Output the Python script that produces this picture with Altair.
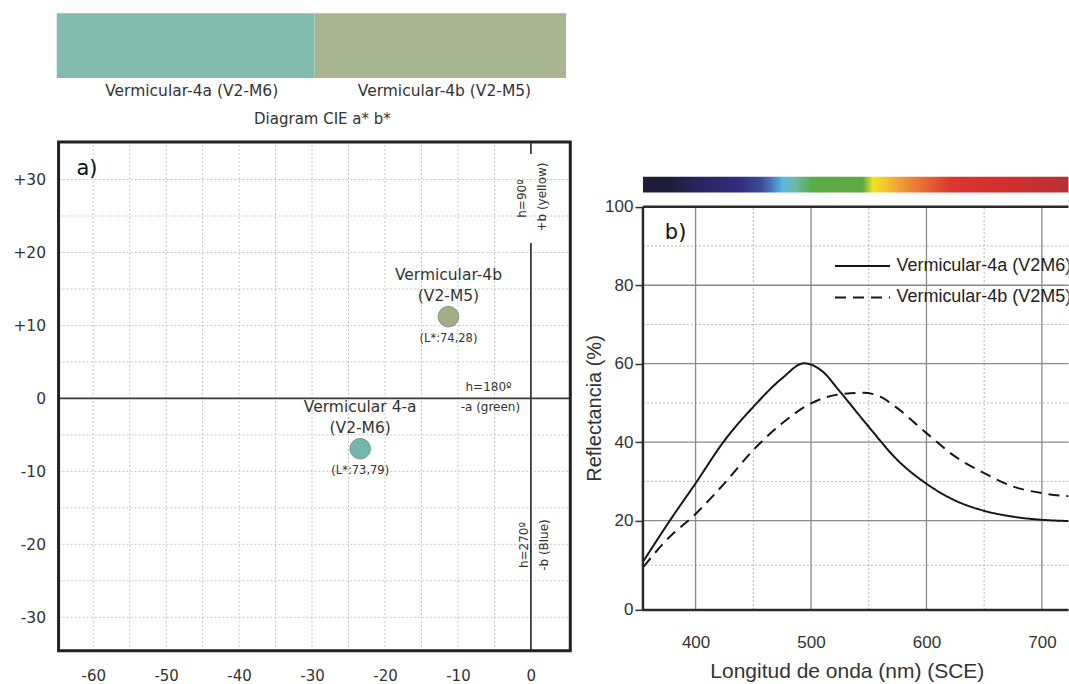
import altair as alt
import pandas as pd

# ---------------------------------------------------------------------------
# Panel a) - CIE a*b* diagram
# ---------------------------------------------------------------------------
sample_names = ["Vermicular 4-a", "Vermicular-4b"]
sample_codes = ["(V2-M6)", "(V2-M5)"]
sample_lightness = ["(L*:73,79)", "(L*:74,28)"]
sample_a = [-23.4, -11.3]
sample_b = [-6.9, 11.2]
sample_colors = ["#74b6a9", "#a3ad86"]

swatch_labels = ["Vermicular-4a (V2-M6)", "Vermicular-4b (V2-M5)"]
swatch_colors = ["#83bcaf", "#a9b592"]

a_ticks = [-60, -50, -40, -30, -20, -10, 0]
b_ticks = [-30, -20, -10, 0, 10, 20, 30]
grid_a = [-60, -55, -50, -45, -40, -35, -30, -25, -20, -15, -10, -5]
grid_b = [-30, -25, -20, -15, -10, -5, 5, 10, 15, 20, 25, 30]

# ---------------------------------------------------------------------------
# Panel b) - reflectance spectra
# ---------------------------------------------------------------------------
series = ["Vermicular-4a (V2M6)", "Vermicular-4b (V2M5)"]
wl_4a = [355, 380, 400, 425, 450, 475, 494, 510, 525, 550, 575, 600, 625, 650, 675, 700, 723]
refl_4a = [11.0, 21.0, 29.5, 40.4, 49.0, 56.3, 60.1, 58.0, 52.9, 43.9, 35.4, 29.4, 25.1, 22.5, 21.0, 20.2, 19.9]
wl_4b = [355, 375, 400, 425, 450, 475, 500, 525, 545, 560, 575, 600, 625, 650, 675, 700, 723]
refl_4b = [9.7, 15.7, 21.7, 29.5, 38.0, 44.8, 49.9, 52.2, 52.6, 51.6, 48.6, 42.3, 36.3, 32.1, 28.7, 27.0, 26.2]

nm_ticks = [400, 500, 600, 700]
nm_grid_major = [400, 500, 600, 700]
nm_grid_minor = [450, 550, 650]
r_ticks = [0, 20, 40, 60, 80, 100]
r_grid_major = [20, 40, 60, 80]
r_grid_minor = [10, 30, 50, 70, 90]

# visible spectrum colour bar: (wavelength, colour)
spectrum_nm = [354.4, 377.7, 403.7, 438.4, 455.7, 466.0, 475.6, 486.0, 500.7,
               544.9, 553.5, 564.8, 576.9, 596.8, 622.8, 672.0, 723.2]
spectrum_col = ["#1e1c36", "#1f1d3c", "#2a2560", "#302e7e", "#3a4898", "#4a78c0",
                "#5cb8e2", "#6cb8a8", "#5aac48", "#5fa840", "#f2e41e", "#f3c532",
                "#ef9e38", "#e86b35", "#da3530", "#d22e2e", "#b83232"]

# ---------------------------------------------------------------------------
# Layout / style constants
# ---------------------------------------------------------------------------
LEFT_FONT = "DejaVu Sans"
RIGHT_FONT = "Liberation Sans"
TXT = "#333333"

A_MIN, A_MAX = -64.75, 5.4
B_MIN, B_MAX, B_TOP = -34.6, 35.15, 52.8
W_L, H_L = 512, 638

N_MIN, N_MAX = 354.4, 723.2
R_LOW, R_TOP = -1.0, 149.35
W_R, H_R = 426, 601.5

a_scale = alt.Scale(domain=[A_MIN, A_MAX], nice=False, zero=False)
b_scale = alt.Scale(domain=[B_MIN, B_TOP], nice=False, zero=False)
a_axis = alt.Axis(values=a_ticks, title=None, domain=False, ticks=False, tickSize=0, grid=False,
                  labelExpr="'' + datum.value", labelFont=LEFT_FONT, labelFontSize=15,
                  labelColor=TXT, labelPadding=18)
b_axis = alt.Axis(values=b_ticks, title=None, domain=False, ticks=False, tickSize=0, grid=False,
                  labelExpr="datum.value > 0 ? '+' + datum.value : '' + datum.value",
                  labelFont=LEFT_FONT, labelFontSize=15.5, labelColor=TXT, labelPadding=13)


def A(field):
    return alt.X(field, type="quantitative", scale=a_scale, axis=a_axis)


def B(field):
    return alt.Y(field, type="quantitative", scale=b_scale, axis=b_axis)


# colour swatches above the diagram
sw_edges = [-65.0, -29.66, 4.82]
swatch_df = pd.DataFrame({
    "a0": sw_edges[:-1], "a1": sw_edges[1:], "b0": [43.92] * 2, "b1": [B_TOP] * 2,
    "color": swatch_colors, "label": swatch_labels,
    "la": [-46.5, -11.85], "lb": [42.14] * 2,
})
swatch = alt.Chart(swatch_df).mark_rect().encode(
    x=A("a0"), x2="a1", y=B("b0"), y2="b1", fill=alt.Fill("color:N", scale=None))
swatch_text = alt.Chart(swatch_df).mark_text(
    font=LEFT_FONT, fontSize=15.5, color=TXT, baseline="middle").encode(
    x=A("la"), y=B("lb"), text="label:N")
caption = alt.Chart(pd.DataFrame({"t": ["Diagram CIE a* b*"], "a": [-28.58], "b": [38.26]})).mark_text(
    font=LEFT_FONT, fontSize=15, color=TXT, baseline="middle").encode(x=A("a"), y=B("b"), text="t:N")

# dotted grid
gv = alt.Chart(pd.DataFrame({"a": grid_a, "b0": B_MIN, "b1": B_MAX})).mark_rule(
    color="#c6c6c6", strokeWidth=1, strokeDash=[2, 2]).encode(x=A("a"), y=B("b0"), y2="b1")
gh = alt.Chart(pd.DataFrame({"b": grid_b, "a0": A_MIN, "a1": A_MAX})).mark_rule(
    color="#c6c6c6", strokeWidth=1, strokeDash=[2, 2]).encode(y=B("b"), x=A("a0"), x2="a1")

# a = 0 and b = 0 axes
zero_h = alt.Chart(pd.DataFrame({"b": [0], "a0": [A_MIN], "a1": [A_MAX]})).mark_rule(
    color="#3a3a3a", strokeWidth=1.8).encode(y=B("b"), x=A("a0"), x2="a1")
zero_v = alt.Chart(pd.DataFrame({"a": [0, 0], "b0": [B_MIN, 33.5], "b1": [21.3, B_MAX]})).mark_rule(
    color="#3a3a3a", strokeWidth=1.8).encode(x=A("a"), y=B("b0"), y2="b1")

frame_l = alt.Chart(pd.DataFrame({"a0": [A_MIN], "a1": [A_MAX], "b0": [B_MIN], "b1": [B_MAX]})).mark_rect(
    fillOpacity=0, stroke="#222222", strokeWidth=3).encode(x=A("a0"), x2="a1", y=B("b0"), y2="b1")

# hue-angle annotations
ann_flat = alt.Chart(pd.DataFrame({
    "t": ["h=180º", "-a (green)"], "a": [-5.8, -5.55], "b": [1.6, -1.15]})).mark_text(
    font=LEFT_FONT, fontSize=12, color=TXT, baseline="middle").encode(x=A("a"), y=B("b"), text="t:N")
ann_rot = alt.Chart(pd.DataFrame({
    "t": ["h=90º", "+b (yellow)", "h=270º", "-b (Blue)"],
    "a": [-1.2, 1.53, -1.0, 1.75], "b": [27.4, 27.6, -20.1, -20.1]})).mark_text(
    font=LEFT_FONT, fontSize=12, color=TXT, baseline="middle", angle=270).encode(
    x=A("a"), y=B("b"), text="t:N")
panel_a = alt.Chart(pd.DataFrame({"t": ["a)"], "a": [-62.3], "b": [31.4]})).mark_text(
    font=LEFT_FONT, fontSize=21, color="#111111", align="left", baseline="middle").encode(
    x=A("a"), y=B("b"), text="t:N")

samples_df = pd.DataFrame({
    "a": sample_a, "b": sample_b, "name": sample_names, "code": sample_codes,
    "L": sample_lightness, "color": sample_colors})
pts = alt.Chart(samples_df).mark_circle(size=430, opacity=1, stroke="#6f8f86", strokeWidth=0.8).encode(
    x=A("a"), y=B("b"), color=alt.Color("color:N", scale=None))
lbl_name = alt.Chart(samples_df).mark_text(font=LEFT_FONT, fontSize=15.5, color=TXT, dy=-42).encode(
    x=A("a"), y=B("b"), text="name:N")
lbl_code = alt.Chart(samples_df).mark_text(font=LEFT_FONT, fontSize=15.5, color=TXT, dy=-21).encode(
    x=A("a"), y=B("b"), text="code:N")
lbl_L = alt.Chart(samples_df).mark_text(font=LEFT_FONT, fontSize=11.5, color=TXT, dy=22).encode(
    x=A("a"), y=B("b"), text="L:N")

left = alt.layer(
    swatch, swatch_text, caption, gv, gh, zero_h, zero_v, frame_l,
    ann_flat, ann_rot, panel_a, pts, lbl_name, lbl_code, lbl_L,
).properties(width=W_L, height=H_L)

# ---------------------------------------------------------------------------
# Panel b)
# ---------------------------------------------------------------------------
n_scale = alt.Scale(domain=[N_MIN, N_MAX], nice=False, zero=False)
r_scale = alt.Scale(domain=[R_LOW, 20, R_TOP], range=[H_R, 507.7, 0], nice=False, zero=False)
n_axis = alt.Axis(values=nm_ticks, domain=False, ticks=False, tickSize=0, grid=False,
                  labelExpr="'' + datum.value", labelFont=RIGHT_FONT, labelFontSize=17,
                  labelColor=TXT, labelPadding=20,
                  title="Longitud de onda (nm) (SCE)", titleFont=RIGHT_FONT, titleFontSize=21,
                  titleFontWeight="normal", titleColor=TXT, titleX=204, titleY=57.5,
                  titleBaseline="middle", titleAlign="center")
r_axis = alt.Axis(values=r_ticks, domain=False, ticks=True, tickSize=8, tickWidth=1.5,
                  tickColor="#333333", grid=False, labelExpr="'' + datum.value",
                  labelFont=RIGHT_FONT, labelFontSize=17, labelColor=TXT, labelPadding=2,
                  title="Reflectancia (%)", titleFont=RIGHT_FONT, titleFontSize=20,
                  titleFontWeight="normal", titleColor=TXT, titleX=-48, titleY=395,
                  titleAngle=270, titleBaseline="middle", titleAlign="center")


def N(field):
    return alt.X(field, type="quantitative", scale=n_scale, axis=n_axis)


def R(field):
    return alt.Y(field, type="quantitative", scale=r_scale, axis=r_axis)


span = spectrum_nm[-1] - spectrum_nm[0]
spectrum_fill = alt.Gradient(
    gradient="linear", x1=0, x2=1, y1=0, y2=0,
    stops=[alt.GradientStop(offset=(n - spectrum_nm[0]) / span, color=c)
           for n, c in zip(spectrum_nm, spectrum_col)])
spectrum = alt.Chart(pd.DataFrame({"n0": [spectrum_nm[0]], "n1": [spectrum_nm[-1]],
                                   "r0": [103.67], "r1": [107.64]})).mark_rect(
    fill=spectrum_fill, clip=True).encode(x=N("n0"), x2="n1", y=R("r0"), y2="r1")

rgv_minor = alt.Chart(pd.DataFrame({"n": nm_grid_minor, "r0": 0, "r1": 100})).mark_rule(
    color="#b5b5b5", strokeWidth=1, strokeDash=[2, 2]).encode(x=N("n"), y=R("r0"), y2="r1")
rgh_minor = alt.Chart(pd.DataFrame({"r": r_grid_minor, "n0": N_MIN, "n1": N_MAX})).mark_rule(
    color="#b5b5b5", strokeWidth=1, strokeDash=[2, 2], clip=True).encode(y=R("r"), x=N("n0"), x2="n1")
rgv_major = alt.Chart(pd.DataFrame({"n": nm_grid_major, "r0": 0, "r1": 100})).mark_rule(
    color="#8a8a8a", strokeWidth=1.3).encode(x=N("n"), y=R("r0"), y2="r1")
rgh_major = alt.Chart(pd.DataFrame({"r": r_grid_major, "n0": N_MIN, "n1": N_MAX})).mark_rule(
    color="#8a8a8a", strokeWidth=1.3, clip=True).encode(y=R("r"), x=N("n0"), x2="n1")

frame_h = alt.Chart(pd.DataFrame({"r": [0, 100], "n0": N_MIN, "n1": N_MAX})).mark_rule(
    color="#2a2a2a", strokeWidth=2.5, clip=True).encode(y=R("r"), x=N("n0"), x2="n1")
frame_v = alt.Chart(pd.DataFrame({"n": [N_MIN], "r0": [0], "r1": [100]})).mark_rule(
    color="#2a2a2a", strokeWidth=2.5).encode(x=N("n"), y=R("r0"), y2="r1")

spectra_df = pd.concat([
    pd.DataFrame({"nm": wl_4a, "R": refl_4a, "s": series[0]}),
    pd.DataFrame({"nm": wl_4b, "R": refl_4b, "s": series[1]}),
])
dash = alt.StrokeDash("s:N", scale=alt.Scale(domain=series, range=[[1, 0], [11, 7]]), legend=None)
curves = alt.Chart(spectra_df).mark_line(
    color="#161616", strokeWidth=2, interpolate="monotone", clip=True).encode(
    x=N("nm"), y=R("R"), strokeDash=dash, detail="s:N")

legend_df = pd.DataFrame({"s": series, "r": [84.9, 76.9], "n0": 520.8, "n1": 568.4, "nt": 574.0})
legend_lines = alt.Chart(legend_df).mark_rule(color="#161616", strokeWidth=2).encode(
    x=N("n0"), x2="n1", y=R("r"), strokeDash=dash)
legend_text = alt.Chart(legend_df).mark_text(
    font=RIGHT_FONT, fontSize=18, color="#222222", align="left", baseline="middle", clip=True).encode(
    x=N("nt"), y=R("r"), text="s:N")
panel_b = alt.Chart(pd.DataFrame({"t": ["b)"], "n": [373.4], "r": [93.4]})).mark_text(
    font=LEFT_FONT, fontSize=21, color="#111111", align="left", baseline="middle").encode(
    x=N("n"), y=R("r"), text="t:N")

right = alt.layer(
    spectrum, rgv_minor, rgh_minor, rgv_major, rgh_major, frame_h, frame_v,
    curves, legend_lines, legend_text, panel_b,
).properties(width=W_R, height=H_R)

chart = alt.hconcat(left, right, spacing=72.7, bounds="flush").properties(
    padding={"left": 12.6, "top": 13, "right": 0, "bottom": 0},
    background="white",
).configure_view(stroke=None)

chart.save("out.html", embed_options={"renderer": "svg", "actions": False})
